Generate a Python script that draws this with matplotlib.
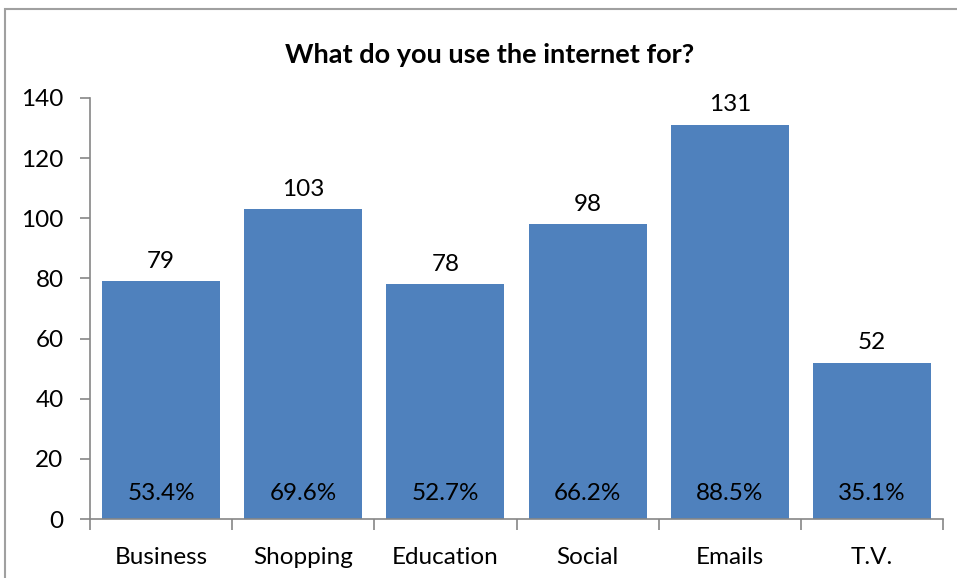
import matplotlib
matplotlib.use("Agg")
import matplotlib.pyplot as plt
from matplotlib.patches import Rectangle

categories = ["Business", "Shopping", "Education", "Social", "Emails", "T.V."]
counts = [79, 103, 78, 98, 131, 52]
percents = [53.4, 69.6, 52.7, 66.2, 88.5, 35.1]
yticks = [0, 20, 40, 60, 80, 100, 120, 140]

plt.rcParams['font.family'] = ['Lato', 'DejaVu Sans']
FS = 17.5

fig = plt.figure(figsize=(9.57, 5.78), dpi=100)
# outer chart frame (partially cropped)
fig.patches.append(Rectangle((5/957, -0.1), 1.2, 1 - 9/578 + 0.1, transform=fig.transFigure,
                             fill=False, edgecolor="#a0a0a0", linewidth=1.5))

ax = fig.add_axes([90/957, 1 - 519/578, (943-90)/957, (519-98)/578])
x = list(range(len(categories)))
bars = ax.bar(x, counts, width=0.83, color="#4F81BD", zorder=2)

ax.set_xlim(-0.5, len(categories) - 0.5)
ax.set_ylim(0, 140)
ax.set_yticks(yticks)
ax.set_yticklabels([str(v) for v in yticks], fontsize=FS)
ax.set_xticks(x)
ax.set_xticklabels(categories, fontsize=FS)
ax.tick_params(axis='x', length=0, pad=20)
ax.tick_params(axis='y', length=7, width=1.2, color="#868686", pad=12)
# minor ticks at category boundaries
ax.set_xticks([i - 0.5 for i in range(len(categories) + 1)], minor=True)
ax.tick_params(axis='x', which='minor', length=8, width=1.2, color="#868686")

for s in ["top", "right"]:
    ax.spines[s].set_visible(False)
for s in ["left", "bottom"]:
    ax.spines[s].set_color("#868686")
    ax.spines[s].set_linewidth(1.2)

for xi, c, p in zip(x, counts, percents):
    ax.annotate(str(c), (xi, c), xytext=(0, 7), textcoords="offset points",
                ha="center", va="bottom", fontsize=FS)
    ax.annotate(f"{p:.1f}%", (xi, 0), xytext=(0, 18), textcoords="offset points",
                ha="center", va="center", fontsize=FS)

fig.text(490/957, 1 - 55/578, "What do you use the internet for?", ha="center", va="center",
         fontsize=19.5, fontweight="bold")

fig.savefig("out.png", dpi=100)
